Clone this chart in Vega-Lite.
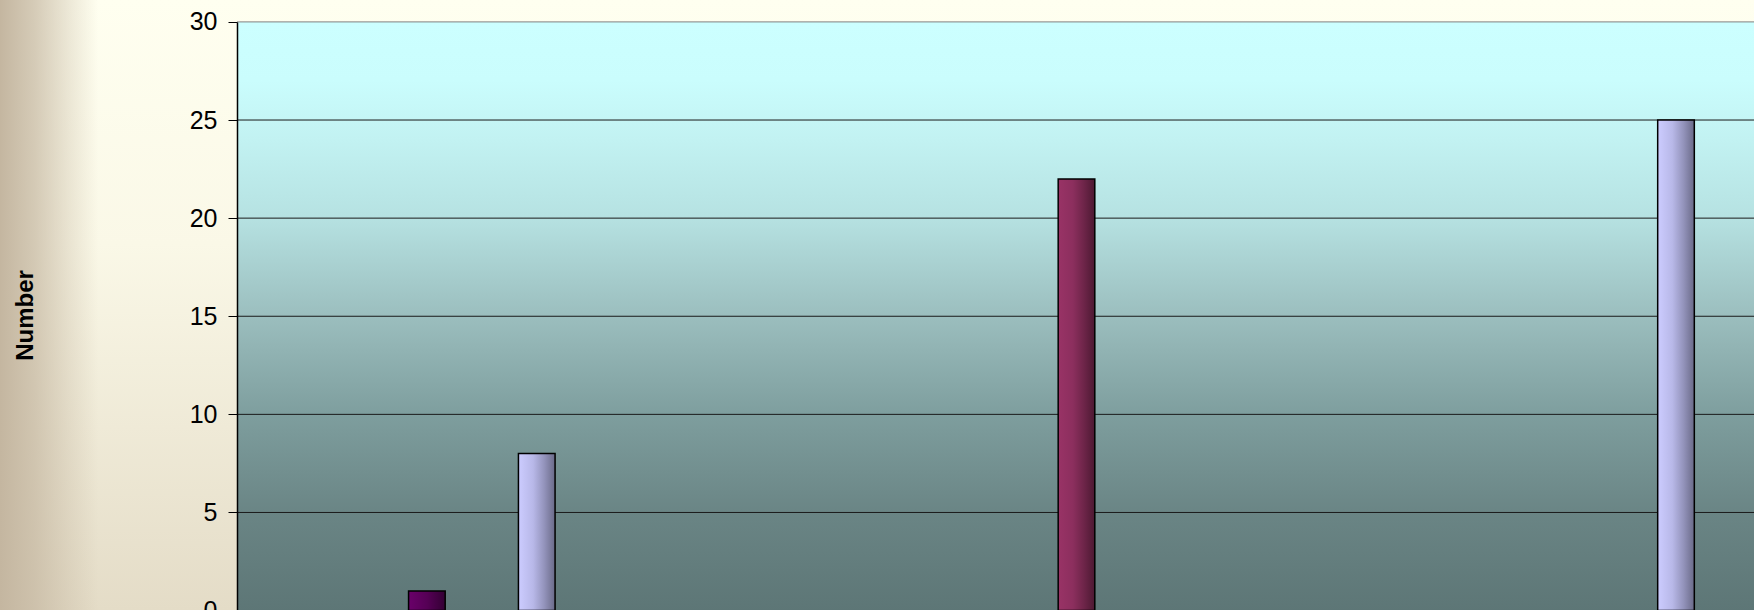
{
  "$schema": "https://vega.github.io/schema/vega-lite/v6.json",
  "width": 1754,
  "height": 610,
  "autosize": {"type": "none"},
  "padding": 0,
  "background": "#FFFFF0",
  "config": {"view": {"stroke": null}, "font": "Liberation Sans"},
  "datasets": {
    "bars": [
      {"category": "C1", "series": "S5", "value": 1},
      {"category": "C1", "series": "S8", "value": 8},
      {"category": "C3", "series": "S2", "value": 22},
      {"category": "C4", "series": "S8", "value": 25}
    ],
    "grid": [
      {"level": 5}, {"level": 10}, {"level": 15}, {"level": 20}, {"level": 25}, {"level": 30}
    ],
    "frame": [{"top": 30, "bottom": 0}]
  },
  "layer": [
    {
      "data": {"name": "frame"},
      "mark": {"type": "rect", "color": {"gradient": "linear", "x1": 0, "y1": 0, "x2": 0, "y2": 1,
        "stops": [{"offset": 0, "color": "#FFFFF0"}, {"offset": 0.4, "color": "#FAF8E7"}, {"offset": 1, "color": "#E4DCC7"}]}},
      "encoding": {}
    },
    {
      "data": {"name": "frame"},
      "mark": {"type": "rect", "color": {"gradient": "linear", "x1": 0, "y1": 0, "x2": 1, "y2": 0,
        "stops": [
          {"offset": 0, "color": "rgba(196,182,160,1)"},
          {"offset": 0.02, "color": "rgba(196,182,160,0.7)"},
          {"offset": 0.04, "color": "rgba(196,182,160,0.3)"},
          {"offset": 0.056, "color": "rgba(196,182,160,0)"},
          {"offset": 1, "color": "rgba(196,182,160,0)"}]}},
      "encoding": {}
    },
    {
      "data": {"name": "frame"},
      "mark": {"type": "rect", "color": {"gradient": "linear", "x1": 0, "y1": 0, "x2": 0, "y2": 1,
        "stops": [
          {"offset": 0, "color": "#CCFFFF"},
          {"offset": 0.1, "color": "#CAFDFD"},
          {"offset": 0.2, "color": "#C2F2F2"},
          {"offset": 0.33, "color": "#B6E2E2"},
          {"offset": 0.5, "color": "#9BBEBE"},
          {"offset": 0.667, "color": "#7E9E9E"},
          {"offset": 0.833, "color": "#6A8585"},
          {"offset": 1, "color": "#5D7676"}]}},
      "encoding": {
        "x": {"datum": "C1", "type": "nominal", "bandPosition": 0,
              "scale": {"type": "band", "domain": ["C1", "C2", "C3", "C4"], "range": [237, 1756], "paddingInner": 0, "paddingOuter": 0},
              "axis": null},
        "x2": {"datum": "C4", "bandPosition": 1},
        "y": {"field": "top", "type": "quantitative",
              "scale": {"domain": [0, 30], "range": [610.6, 21.9], "nice": false, "zero": true},
              "axis": {
                "values": [0, 5, 10, 15, 20, 25, 30],
                "grid": false,
                "domain": true, "domainColor": "#000000", "domainWidth": 1.5,
                "ticks": true, "tickColor": "#000000", "tickSize": 9, "tickWidth": 1,
                "labelFontSize": 25, "labelColor": "#000000", "labelPadding": 11, "labelFont": "Liberation Sans",
                "labelOverlap": false, "labelFlush": false,
                "title": "Number", "titleFontSize": 24, "titleFontWeight": "bold", "titleColor": "#000000",
                "titleFont": "Liberation Sans", "titleX": -205, "titleY": 315, "titleAngle": 270,
                "titleBaseline": "alphabetic", "titleAlign": "center",
                "offset": -237, "zindex": 1
              }},
        "y2": {"field": "bottom"}
      }
    },
    {
      "data": {"name": "grid"},
      "mark": {"type": "rule", "strokeWidth": 1},
      "encoding": {
        "x": {"datum": "C1", "type": "nominal", "bandPosition": 0},
        "x2": {"datum": "C4", "bandPosition": 1},
        "y": {"field": "level", "type": "quantitative"},
        "stroke": {"condition": {"test": "datum.level === 30", "value": "#808080"}, "value": "#1A1A1A"}
      }
    },
    {
      "data": {"name": "bars"},
      "transform": [{"filter": "datum.series === 'S8'"}],
      "mark": {"type": "bar", "stroke": "#000000", "strokeWidth": 1.5, "color": {"gradient": "linear", "x1": 0, "y1": 0, "x2": 1, "y2": 0,
        "stops": [{"offset": 0, "color": "#CCCCFF"}, {"offset": 0.4, "color": "#B8B8E8"}, {"offset": 0.7, "color": "#9494BC"}, {"offset": 1, "color": "#6A6A88"}]}},
      "encoding": {
        "x": {"field": "category", "type": "nominal"},
        "xOffset": {"field": "series", "type": "nominal", "scale": {"type": "band", "domain": ["S1", "S2", "S3", "S4", "S5", "S6", "S7", "S8", "S9"], "paddingInner": 0, "paddingOuter": 0.684}},
        "y": {"field": "value", "type": "quantitative"}
      }
    },
    {
      "data": {"name": "bars"},
      "transform": [{"filter": "datum.series === 'S2'"}],
      "mark": {"type": "bar", "stroke": "#000000", "strokeWidth": 1.5, "color": {"gradient": "linear", "x1": 0, "y1": 0, "x2": 1, "y2": 0,
        "stops": [{"offset": 0, "color": "#993366"}, {"offset": 0.4, "color": "#8C2F5E"}, {"offset": 0.7, "color": "#6E2549"}, {"offset": 1, "color": "#4C1932"}]}},
      "encoding": {
        "x": {"field": "category", "type": "nominal"},
        "xOffset": {"field": "series", "type": "nominal", "scale": {"type": "band", "domain": ["S1", "S2", "S3", "S4", "S5", "S6", "S7", "S8", "S9"], "paddingInner": 0, "paddingOuter": 0.684}},
        "y": {"field": "value", "type": "quantitative"}
      }
    },
    {
      "data": {"name": "bars"},
      "transform": [{"filter": "datum.series === 'S5'"}],
      "mark": {"type": "bar", "stroke": "#000000", "strokeWidth": 1.5, "color": {"gradient": "linear", "x1": 0, "y1": 0, "x2": 1, "y2": 0,
        "stops": [{"offset": 0, "color": "#6A006A"}, {"offset": 0.5, "color": "#560056"}, {"offset": 1, "color": "#330033"}]}},
      "encoding": {
        "x": {"field": "category", "type": "nominal"},
        "xOffset": {"field": "series", "type": "nominal", "scale": {"type": "band", "domain": ["S1", "S2", "S3", "S4", "S5", "S6", "S7", "S8", "S9"], "paddingInner": 0, "paddingOuter": 0.684}},
        "y": {"field": "value", "type": "quantitative"}
      }
    }
  ]
}
